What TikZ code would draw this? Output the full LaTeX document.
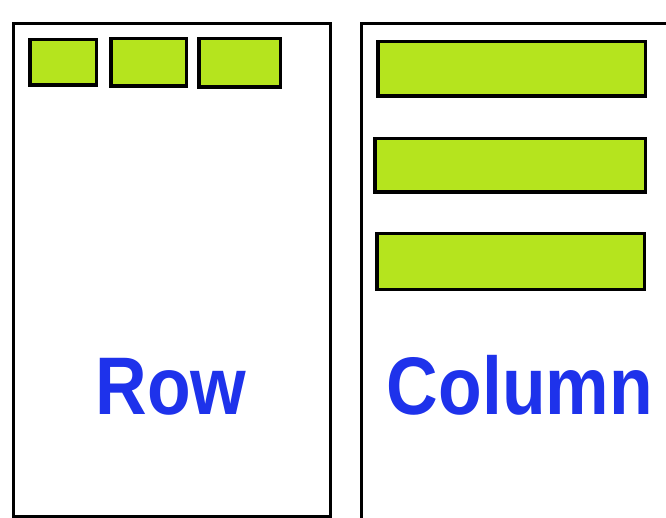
\documentclass[tikz,border=0pt]{standalone}
\usepackage{fontspec}
\setmainfont{Liberation Sans}
\usepackage{tikz}
\usetikzlibrary{positioning}
\definecolor{cellgreen}{RGB}{181,228,30}
\definecolor{tagblue}{RGB}{30,50,235}
\newcommand{\narrow}[1]{\scalebox{0.875}[1]{#1}}
\tikzset{
  pane/.style={draw, line width=3bp, inner sep=0pt},
  cell/.style={draw, fill=cellgreen, line width=3.5bp, inner sep=0pt},
  tag/.style={text=tagblue, font=\fontsize{82}{82}\selectfont\bfseries, inner sep=0pt,
              anchor=base}
}

\begin{document}
\begin{tikzpicture}[x=1bp, y=-1bp]
  \clip (0,0) rectangle (666,518);
  \fill[white] (0,0) rectangle (666,518);
  % two panes
  \node[pane, minimum width=317bp, minimum height=493bp] (rowpane) at (172,270) {};
  \node[pane, minimum width=338.5bp, minimum height=516.5bp] (colpane) at (530.75,281.75) {};
  % row layout: cells side by side
  \node[cell, minimum width=66.5bp, minimum height=45.5bp] (cell1) at (63,62.5) {};
  \node[cell, minimum width=75.5bp, minimum height=47.5bp] (cell2) at (148.5,62.5) {};
  \node[cell, minimum width=81.5bp, minimum height=48.5bp] (cell3) at (239.5,63) {};
  % column layout: bars stacked
  \node[cell, minimum width=267.5bp, minimum height=54.5bp] (bar1) at (511.5,69) {};
  \node[cell, minimum width=270.5bp, minimum height=53.5bp] (bar2) at (510,165.5) {};
  \node[cell, minimum width=267.5bp, minimum height=55.5bp] (bar3) at (510.5,261.5) {};
  \node[tag] (rowtag) at (171,414.5) {\narrow{Row}};
  \node[tag] (coltag) at (520,414.5) {\narrow{Column}};
\end{tikzpicture}
\end{document}
